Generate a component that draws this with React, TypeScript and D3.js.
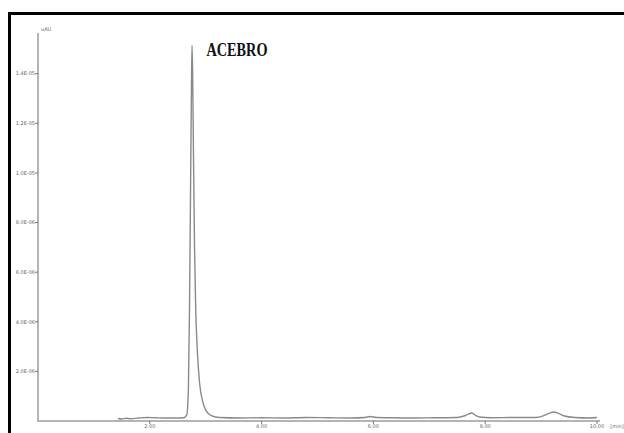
import React from 'react';
import * as d3 from 'd3';

// retention time [min] and signal [x1E-06 AU]
const traceTime = [1.43, 1.5, 1.58, 1.66, 1.8, 1.95, 2.1, 2.3, 2.5, 2.6, 2.66, 2.69, 2.71, 2.73, 2.745, 2.755, 2.765, 2.78, 2.8, 2.82, 2.85, 2.89, 2.94, 3.0, 3.1, 3.25, 3.6, 4.0, 4.4, 4.8, 5.2, 5.6, 5.85, 5.95, 6.05, 6.3, 6.7, 7.1, 7.5, 7.62, 7.7, 7.76, 7.82, 7.9, 8.1, 8.5, 8.9, 9.05, 9.15, 9.22, 9.3, 9.42, 9.6, 9.85, 10.0];
const traceValue = [0.06, 0.04, 0.07, 0.05, 0.08, 0.1, 0.09, 0.08, 0.08, 0.09, 0.2, 1.2, 4.5, 9.5, 13.4, 15.1, 14.2, 11, 7, 4.6, 2.8, 1.5, 0.8, 0.4, 0.18, 0.1, 0.08, 0.09, 0.08, 0.1, 0.09, 0.08, 0.1, 0.14, 0.1, 0.09, 0.08, 0.09, 0.1, 0.16, 0.24, 0.28, 0.2, 0.12, 0.09, 0.1, 0.1, 0.18, 0.28, 0.32, 0.28, 0.16, 0.1, 0.08, 0.1];

const yTicks = [2, 4, 6, 8, 10, 12, 14];
const yTickLabels = ['2.0E-06', '4.0E-06', '6.0E-06', '8.0E-06', '1.0E-05', '1.2E-05', '1.4E-05'];
const xTicks = [2, 4, 6, 8, 10];
const xTickLabels = ['2.00', '4.00', '6.00', '8.00', '10.00'];

const peakLabel = 'ACEBRO';
const peakTime = 2.755;
const peakValue = 15.1;

export default function App() {
    const width = 624, height = 433;

    const x = d3.scaleLinear().domain([0, 10]).range([38, 597]);
    const y = d3.scaleLinear().domain([0, 15.6]).range([421, 34]);

    const pts: [number, number][] = traceTime.map((t, i) => [t, traceValue[i]]);
    const line = d3.line<[number, number]>()
        .x(d => x(d[0]))
        .y(d => y(d[1]) - 1)
        .curve(d3.curveMonotoneX);

    return (
        <svg width={width} height={height}
            style={{ position: 'absolute', left: 0, top: 0, background: '#fff' }}
            fontFamily="'DejaVu Sans', sans-serif">
            <rect x={9.5} y={13.5} width={700} height={500} fill="none" stroke="#000" strokeWidth={3} />

            {/* axes */}
            <line x1={x(0)} x2={x(0)} y1={33} y2={y(0)} stroke="#b4b4b4" strokeWidth={2} />
            <line x1={x(0) - 1} x2={600} y1={y(0)} y2={y(0)} stroke="#b4b4b4" strokeWidth={2} />
            <text x={41} y={31} fontSize={5} fill="#666">uAU</text>

            {yTicks.map((t, i) => (
                <g key={t}>
                    <line x1={x(0) - 3} x2={x(0)} y1={y(t)} y2={y(t)} stroke="#777" strokeWidth={1} />
                    <text x={x(0) - 3} y={y(t) + 1.8} fontSize={5} fill="#666" textAnchor="end">
                        {yTickLabels[i]}
                    </text>
                </g>
            ))}

            {xTicks.map((t, i) => (
                <g key={t}>
                    <line x1={x(t)} x2={x(t)} y1={y(0)} y2={y(0) + 3} stroke="#777" strokeWidth={1} />
                    <text x={x(t)} y={y(0) + 7} fontSize={5} fill="#666" textAnchor="middle">
                        {xTickLabels[i]}
                    </text>
                </g>
            ))}
            <text x={617} y={y(0) + 7} fontSize={5} fill="#666" textAnchor="middle">[min]</text>

            {/* trace */}
            <path d={line(pts) || ''} fill="none" stroke="#8a8a8a" strokeWidth={1.4} />

            <text x={x(peakTime) + 14.5} y={y(peakValue) + 10} fontSize={19}
                fontFamily="'Liberation Serif', serif" fontWeight="bold" fill="#111"
                textLength={61} lengthAdjust="spacingAndGlyphs">
                {peakLabel}
            </text>
        </svg>
    );
}
